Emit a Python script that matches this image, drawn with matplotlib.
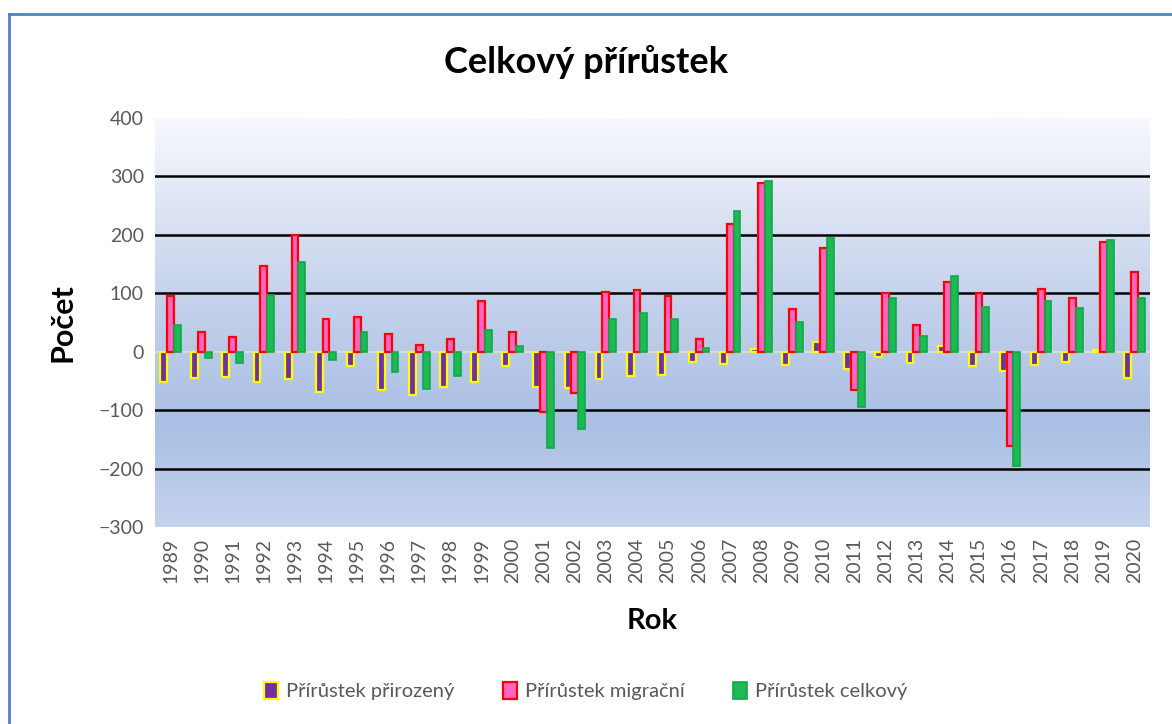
import matplotlib.pyplot as plt
from matplotlib.lines import Line2D
from matplotlib.colors import LinearSegmentedColormap
import numpy as np

# Data
years = [str(y) for y in range(1989, 2021)]
prirozeny = [-51, -45, -44, -51, -46, -69, -25, -66, -74, -61, -51, -24, -61, -62, -47, -41,
             -39, -18, -21, 4, -23, 16, -29, -9, -19, 10, -24, -33, -22, -18, 3, -45]
migracni = [96, 34, 25, 147, 199, 56, 59, 31, 11, 21, 86, 33, -103, -71, 103, 106,
            95, 22, 219, 289, 73, 177, -65, 101, 46, 119, 101, -162, 108, 92, 188, 137]
celkovy = [45, -11, -19, 97, 154, -14, 34, -35, -63, -41, 37, 9, -164, -133, 56, 66,
           56, 6, 240, 293, 50, 194, -94, 92, 27, 130, 77, -195, 86, 75, 191, 92]

plt.rcParams['font.family'] = ['Lato', 'DejaVu Sans']

fig = plt.figure(figsize=(11.72, 7.24), dpi=100)
ax = fig.add_axes([155 / 1172, 1 - 527 / 724, (1150 - 155) / 1172, (527 - 118) / 724])

x = np.arange(len(years))
w = 0.22
ax.set_xlim(-0.5, len(years) - 0.5)
ax.set_ylim(-300, 400)

# Background gradient of the plot area
cmap = LinearSegmentedColormap.from_list(
    "bg", [(0, "#c4d3ed"), (0.25, "#aabfe4"), (0.55, "#c3d1eb"), (0.8, "#dfe6f4"), (1, "#f7f9fd")])
grad = np.linspace(0, 1, 256).reshape(-1, 1)
ax.imshow(grad, cmap=cmap, origin="lower", aspect="auto",
          extent=[-0.5, len(years) - 0.5, -300, 400], zorder=0)

for yv in [-200, -100, 100, 200, 300]:
    ax.axhline(yv, color="black", lw=1.8, zorder=1)
ax.axhline(0, color="#d9d9d9", lw=1.5, zorder=1)

ax.bar(x - w, prirozeny, w, color="#7030a0", edgecolor="#ffff00", lw=1.6, zorder=3,
       label="Přírůstek přirozený")
ax.bar(x, migracni, w, color="#ff66c4", edgecolor="#ff0000", lw=1.6, zorder=3,
       label="Přírůstek migrační")
ax.bar(x + w, celkovy, w, color="#1db954", edgecolor="#13a84a", lw=1.2, zorder=3,
       label="Přírůstek celkový")

for s in ax.spines.values():
    s.set_visible(False)
ax.set_yticks(range(-300, 401, 100))
ax.set_xticks(x)
ax.set_xticklabels(years, rotation=90)
ax.tick_params(length=0, labelsize=14, labelcolor="#595959", pad=8)

ax.set_xlabel("Rok", fontsize=21, fontweight="bold", labelpad=18)
ax.set_ylabel("Počet", fontsize=22, fontweight="bold", labelpad=16)
fig.text(0.5, 1 - 62 / 724, "Celkový přírůstek", fontsize=26, fontweight="bold",
         ha="center", va="center")

fig.legend(loc="center", bbox_to_anchor=(0.5, 1 - 691 / 724), ncol=3, frameon=False,
           fontsize=14.5, handlelength=0.7, handleheight=0.9, columnspacing=2.4,
           handletextpad=0.4, labelcolor="#595959")

# chart frame: only the left and top edges are visible in the image
fig.add_artist(Line2D([9 / 1172, 9 / 1172], [0, 1 - 14 / 724], transform=fig.transFigure,
                      color="#4f7fd1", lw=2))
fig.add_artist(Line2D([9 / 1172, 1], [1 - 14 / 724, 1 - 14 / 724], transform=fig.transFigure,
                      color="#4f7fd1", lw=2))

fig.savefig("out.png", dpi=100)
